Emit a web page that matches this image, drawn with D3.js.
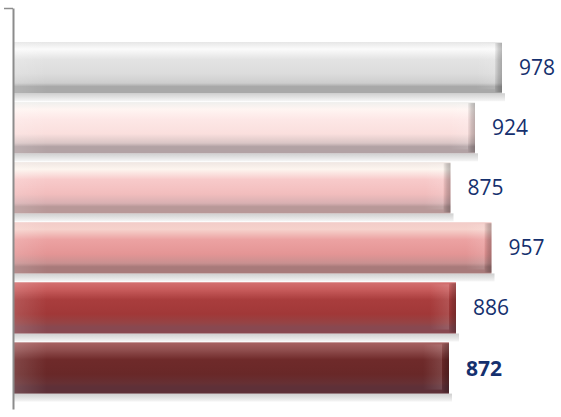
<!DOCTYPE html>
<html>
<head>
<meta charset="utf-8">
<script src="https://cdn.jsdelivr.net/npm/d3@7/dist/d3.min.js"></script>
<style>
  html, body { margin: 0; padding: 0; background: #fff; }
  svg { display: block; }
</style>
</head>
<body>
<svg id="chart" width="561" height="417"></svg>
<script>
// Data
const categories = ["A", "B", "C", "D", "E", "F"];
const values = [978, 924, 875, 957, 886, 872];
const boldLabel = [false, false, false, false, false, true];

// Bar shading, top to bottom, light grey through dark red
const palettes = [
  ["#e6e6e6", "#fbfbfb", "#e3e3e3", "#dcdcdc", "#cdcdcd", "#a8a8a8"],
  ["#efefed", "#fff5f2", "#fde7e6", "#fadfdd", "#d9c5c5", "#b2a2a4"],
  ["#efe6e2", "#fdf5ef", "#f8caca", "#f2bdbd", "#d8b0b2", "#b89898"],
  ["#f2ccc8", "#f6d2cc", "#eca2a2", "#e49595", "#c89090", "#a87a7a"],
  ["#d47070", "#c85c5c", "#a93d3d", "#a13838", "#944446", "#884850"],
  ["#a86262", "#925050", "#6f2a2a", "#692828", "#663034", "#5e3038"]
];

const W = 561, H = 417;
const svg = d3.select("#chart");
const defs = svg.append("defs");

const x = d3.scaleLinear().domain([0, 1000]).range([13, 513]);
const y = d3.scaleBand().domain(categories).range([42, 42 + 58.6 * 6]).paddingInner(0.147).paddingOuter(0);

// gradients
palettes.forEach((p, i) => {
  const g = defs.append("linearGradient").attr("id", "bar" + i)
    .attr("x1", 0).attr("y1", 0).attr("x2", 0).attr("y2", 1);
  const offs = [0, 0.14, 0.34, 0.62, 0.8, 0.87];
  p.forEach((c, k) => g.append("stop").attr("offset", offs[k]).attr("stop-color", c));
  g.append("stop").attr("offset", 1).attr("stop-color", p[5]);
});
const sh = defs.append("linearGradient").attr("id", "shadow")
  .attr("x1", 0).attr("y1", 0).attr("x2", 0).attr("y2", 1);
sh.append("stop").attr("offset", 0).attr("stop-color", "#cfcfcf");
sh.append("stop").attr("offset", 0.5).attr("stop-color", "#e2e2e2");
sh.append("stop").attr("offset", 1).attr("stop-color", "#f6f6f6");
const lft = defs.append("linearGradient").attr("id", "leftGlow")
  .attr("x1", 0).attr("y1", 0).attr("x2", 1).attr("y2", 0);
lft.append("stop").attr("offset", 0).attr("stop-color", "#fff").attr("stop-opacity", 0.14);
lft.append("stop").attr("offset", 1).attr("stop-color", "#fff").attr("stop-opacity", 0);
const glow = defs.append("linearGradient").attr("id", "endGlow")
  .attr("x1", 0).attr("y1", 0).attr("x2", 1).attr("y2", 0);
glow.append("stop").attr("offset", 0).attr("stop-color", "#fff").attr("stop-opacity", 0);
glow.append("stop").attr("offset", 1).attr("stop-color", "#fff").attr("stop-opacity", 0.12);
const cap = defs.append("linearGradient").attr("id", "cap")
  .attr("x1", 0).attr("y1", 0).attr("x2", 1).attr("y2", 0);
cap.append("stop").attr("offset", 0).attr("stop-color", "#000").attr("stop-opacity", 0.04);
cap.append("stop").attr("offset", 0.5).attr("stop-color", "#000").attr("stop-opacity", 0.18);
cap.append("stop").attr("offset", 1).attr("stop-color", "#000").attr("stop-opacity", 0.26);

const bars = svg.append("g").selectAll("g").data(values).join("g");
const bh = y.bandwidth();

// soft shadow beneath each bar
bars.append("rect")
  .attr("x", x(0)).attr("y", (d, i) => y(categories[i]) + bh)
  .attr("width", d => x(d) - x(0) + 3).attr("height", 8)
  .attr("fill", "url(#shadow)");

// main bar body
bars.append("rect")
  .attr("x", x(0)).attr("y", (d, i) => y(categories[i]))
  .attr("width", d => x(d) - x(0)).attr("height", bh)
  .attr("fill", (d, i) => `url(#bar${i})`);

// lighter left end
bars.append("rect")
  .attr("x", x(0)).attr("y", (d, i) => y(categories[i]))
  .attr("width", 34).attr("height", bh)
  .attr("fill", "url(#leftGlow)");

// soft glow before the end cap
bars.append("rect")
  .attr("x", d => x(d) - 26).attr("y", (d, i) => y(categories[i]) + 2)
  .attr("width", 19).attr("height", bh - 6)
  .attr("fill", "url(#endGlow)");

// darker rounded end cap
bars.append("rect")
  .attr("x", d => x(d) - 7).attr("y", (d, i) => y(categories[i]) + 1)
  .attr("width", 7).attr("height", bh - 2)
  .attr("fill", "url(#cap)");

// value labels
bars.append("text")
  .attr("x", d => x(d) + 17)
  .attr("y", (d, i) => y(categories[i]) + bh / 2)
  .attr("dy", "0.36em")
  .attr("font-family", "'Open Sans', sans-serif")
  .attr("font-size", 21)
  .attr("font-weight", (d, i) => boldLabel[i] ? 700 : 400)
  .attr("fill", "#15306e")
  .text(d => d);

// vertical axis line with top tick
const axis = d3.axisLeft(d3.scaleLinear().domain([0, 1]).range([409, 8]))
  .tickValues([1]).tickFormat("").tickSize(9).tickSizeOuter(0);
const ag = svg.append("g").attr("transform", "translate(13,0)").call(axis);
ag.select(".domain").attr("stroke", "#8c8c8c").attr("stroke-width", 2);
ag.selectAll(".tick line").attr("stroke", "#8c8c8c").attr("stroke-width", 1.5);
</script>
</body>
</html>
